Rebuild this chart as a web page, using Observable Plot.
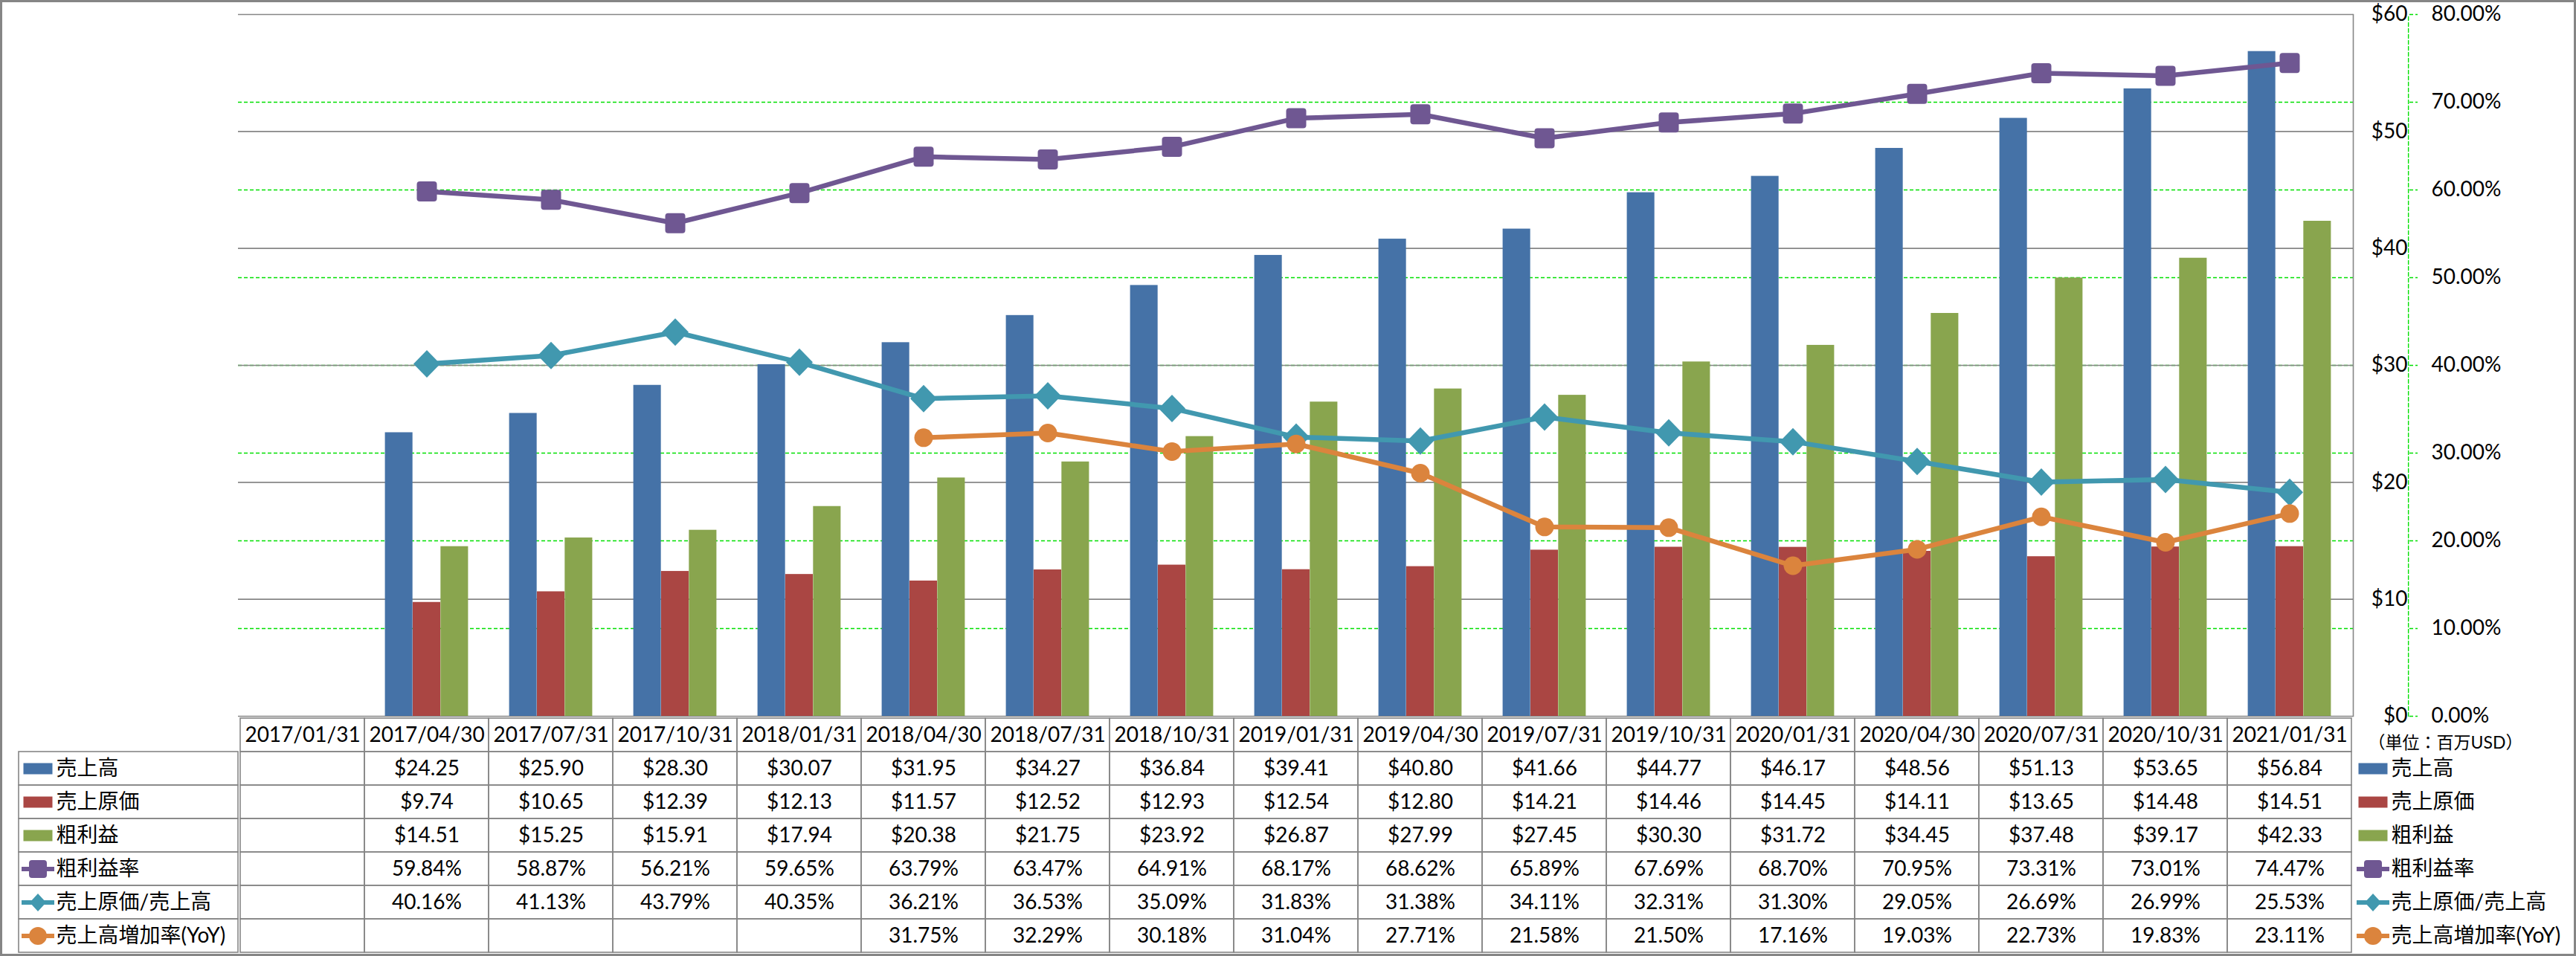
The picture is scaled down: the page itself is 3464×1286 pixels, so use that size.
<!DOCTYPE html>
<html><head><meta charset="utf-8">
<script src="https://cdn.jsdelivr.net/npm/d3@7"></script>
<script src="https://cdn.jsdelivr.net/npm/@observablehq/plot@0.6"></script>
<style>
html,body{margin:0;padding:0;background:#fff;}
#wrap{position:relative;width:3464px;height:1286px;box-sizing:border-box;border:3px solid #868686;background:#fff;overflow:hidden;font-family:Lato,"Noto Sans CJK JP",sans-serif;}
#wrap svg{position:absolute;left:0;background:transparent;max-width:none;}
</style></head><body><div id="wrap"></div>
<script>
// ---------------- data ----------------
const dates = ["2017/01/31","2017/04/30","2017/07/31","2017/10/31","2018/01/31","2018/04/30","2018/07/31","2018/10/31","2019/01/31","2019/04/30","2019/07/31","2019/10/31","2020/01/31","2020/04/30","2020/07/31","2020/10/31","2021/01/31"];
const sales = [null,24.25,25.90,28.30,30.07,31.95,34.27,36.84,39.41,40.80,41.66,44.77,46.17,48.56,51.13,53.65,56.84];
const cost = [null,9.74,10.65,12.39,12.13,11.57,12.52,12.93,12.54,12.80,14.21,14.46,14.45,14.11,13.65,14.48,14.51];
const gross = [null,14.51,15.25,15.91,17.94,20.38,21.75,23.92,26.87,27.99,27.45,30.30,31.72,34.45,37.48,39.17,42.33];
const grossMargin = [null,59.84,58.87,56.21,59.65,63.79,63.47,64.91,68.17,68.62,65.89,67.69,68.70,70.95,73.31,73.01,74.47];
const costRatio = [null,40.16,41.13,43.79,40.35,36.21,36.53,35.09,31.83,31.38,34.11,32.31,31.30,29.05,26.69,26.99,25.53];
const yoy = [null,null,null,null,null,31.75,32.29,30.18,31.04,27.71,21.58,21.50,17.16,19.03,22.73,19.83,23.11];
const seriesNames = ["売上高","売上原価","粗利益","粗利益率","売上原価/売上高","売上高増加率(YoY)"];
const dollarTicks = [0,10,20,30,40,50,60];
const pctTicks = [0,10,20,30,40,50,60,70,80];
const unitLabel = "（単位：百万USD）";

// ---------------- layout / style ----------------
const W = 3458;                 // inner width of the bordered box
const ML = 317, MR = 297;       // plot frame margins
const FW = W - ML - MR;         // frame width
const CH = 1000, MT = 16, MB = 40;   // chart svg
const TH = 320;                 // table svg height
const pctToDollar = dollarTicks[dollarTicks.length-1] / pctTicks[pctTicks.length-1];
const gray = "#868686", green = "#00e000";
const FONT = 'Lato, "Noto Sans CJK JP", sans-serif';
const money = v => "$" + v.toFixed(2);
const pct = v => v.toFixed(2) + "%";

function roundSq(s, rad) {
  const h = s/2;
  return ctx => { ctx.moveTo(-h+rad,-h); ctx.lineTo(h-rad,-h); ctx.arcTo(h,-h,h,-h+rad,rad);
    ctx.lineTo(h,h-rad); ctx.arcTo(h,h,h-rad,h,rad); ctx.lineTo(-h+rad,h); ctx.arcTo(-h,h,-h,h-rad,rad);
    ctx.lineTo(-h,-h+rad); ctx.arcTo(-h,-h,-h+rad,-h,rad); ctx.closePath(); };
}
const diamondPath = (w, h) => ctx => { ctx.moveTo(0,-h); ctx.lineTo(w,0); ctx.lineTo(0,h); ctx.lineTo(-w,0); ctx.closePath(); };
const circlePath = r => ctx => { ctx.moveTo(r,0); ctx.arc(0,0,r,0,2*Math.PI); };
const sym = f => ({draw(ctx){ f(ctx); }});
const withLine = (f, len, th) => sym(ctx => { ctx.rect(-len/2,-th/2,len,th); f(ctx); });

const series = [
  {name: seriesNames[0], values: sales, kind: "bar", color: "#4572A7", fmt: money},
  {name: seriesNames[1], values: cost, kind: "bar", color: "#AA4643", fmt: money},
  {name: seriesNames[2], values: gross, kind: "bar", color: "#89A54E", fmt: money},
  {name: seriesNames[3], values: grossMargin, kind: "line", color: "#6F5792", fmt: pct,
    marker: sym(roundSq(27,4)), legend: withLine(roundSq(24,4),44,6)},
  {name: seriesNames[4], values: costRatio, kind: "line", color: "#4198AF", fmt: pct,
    marker: sym(diamondPath(18,18.5)), legend: withLine(diamondPath(11,12),44,6)},
  {name: seriesNames[5], values: yoy, kind: "line", color: "#DB843D", fmt: pct,
    marker: sym(circlePath(12.5)), legend: withLine(circlePath(12),44,6)}
];
series.filter(s => s.kind === "bar").forEach(s => s.legend = sym(ctx => ctx.rect(-19.5,-7.5,39,15)));

// ---------------- chart ----------------
const band = FW / dates.length;
const group = band * 0.67, barW = group / 3, outer = (band - group) / 2;
const lastDate = dates[dates.length-1];
const marks = [];
marks.push(Plot.ruleY(pctTicks.filter(t => t > 0 && t < pctTicks[pctTicks.length-1]), {y: t => t*pctToDollar, stroke: green, strokeWidth: 1.4, strokeDasharray: "5,3"}));
marks.push(Plot.ruleY(dollarTicks, {stroke: gray, strokeWidth: 1.6}));
marks.push(Plot.frame({anchor: "right", stroke: gray, strokeWidth: 1.6}));
series.filter(s => s.kind === "bar").forEach((s, k) => {
  const idx = dates.map((d, i) => i).filter(i => s.values[i] != null);
  const left = outer + k*barW;
  marks.push(Plot.barY(idx, {x: i => dates[i], y: i => s.values[i], fill: s.color,
    insetLeft: left, insetRight: band - left - barW}));
});
series.filter(s => s.kind === "line").forEach(s => {
  const idx = dates.map((d, i) => i).filter(i => s.values[i] != null);
  marks.push(Plot.line(idx, {x: i => dates[i], y: i => s.values[i]*pctToDollar, stroke: s.color, strokeWidth: 6.5, strokeLinejoin: "round"}));
});
series.filter(s => s.kind === "line").forEach(s => {
  const idx = dates.map((d, i) => i).filter(i => s.values[i] != null);
  marks.push(Plot.dot(idx, {x: i => dates[i], y: i => s.values[i]*pctToDollar, symbol: s.marker, fill: s.color, stroke: "none"}));
});
// right axes
marks.push(Plot.axisY(dollarTicks, {anchor: "right", tickSize: 0, tickPadding: 73, textAnchor: "end", tickFormat: d => "$" + d, fontSize: 28, fill: "#000"}));
// percent axis line (dashed green) placed to the right of the frame
marks.push(Plot.line([pctTicks[0], pctTicks[pctTicks.length-1]], {x: () => lastDate, y: t => t*pctToDollar, dx: band/2 + 76, stroke: green, strokeWidth: 1.4, strokeDasharray: "5,3"}));
marks.push(Plot.ruleY(pctTicks, {y: t => t*pctToDollar, stroke: green, strokeWidth: 1.4, strokeDasharray: "5,3", insetLeft: FW + 76, insetRight: -87}));
marks.push(Plot.axisY(pctTicks.map(t => t*pctToDollar), {anchor: "right", tickSize: 0, tickPadding: 105, textAnchor: "start", tickFormat: d => (d/pctToDollar).toFixed(2) + "%", fontSize: 28, fill: "#000"}));

const chart = Plot.plot({
  width: W, height: CH, marginTop: MT, marginBottom: MB, marginLeft: ML, marginRight: MR,
  style: {fontFamily: FONT, fontSize: "28px", background: "transparent", color: "#000", overflow: "visible"},
  x: {type: "band", domain: dates, padding: 0, axis: null},
  y: {domain: [dollarTicks[0], dollarTicks[dollarTicks.length-1]], axis: null},
  marks
});

// ---------------- data table ----------------
const HEAD = "__date";
const cells = [];
for (const d of dates) cells.push({date: d, row: HEAD, text: d});
series.forEach(s => dates.forEach((d, i) => cells.push({date: d, row: s.name, text: s.values[i] == null ? "" : s.fmt(s.values[i])})));

const tmarks = [
  Plot.cell(cells, {x: "date", y: "row", fill: "none", stroke: gray, strokeWidth: 1.6}),
  Plot.cell(seriesNames, {y: d => d, fill: "none", stroke: gray, strokeWidth: 1.6, insetLeft: -(ML - 22), insetRight: FW}),
  Plot.text(cells, {x: "date", y: "row", text: "text", fontSize: 28, fill: "#000"}),
  Plot.text(seriesNames, {y: d => d, text: d => d, frameAnchor: "left", dx: 72 - ML, textAnchor: "start", fontSize: 28, fill: "#000"}),
  Plot.text(seriesNames, {y: d => d, text: d => d, frameAnchor: "right", dx: 51, textAnchor: "start", fontSize: 28, fill: "#000"}),
  Plot.text([unitLabel], {y: () => HEAD, text: d => d, frameAnchor: "right", dx: 20, dy: 11, textAnchor: "start", fontSize: 23, fill: "#000"})
];
series.forEach(s => {
  tmarks.push(Plot.dot([s.name], {y: d => d, frameAnchor: "left", dx: 47.5 - ML, symbol: s.legend, fill: s.color, stroke: "none"}));
  tmarks.push(Plot.dot([s.name], {y: d => d, frameAnchor: "right", dx: 26.5, symbol: s.legend, fill: s.color, stroke: "none"}));
});

const table = Plot.plot({
  width: W, height: TH, marginTop: 0, marginBottom: 0, marginLeft: ML, marginRight: MR,
  style: {fontFamily: FONT, fontSize: "28px", background: "transparent", color: "#000", overflow: "visible"},
  x: {type: "band", domain: dates, padding: 0, axis: null},
  y: {type: "band", domain: [HEAD, ...seriesNames], padding: 0, axis: null},
  marks: tmarks
});

const wrap = document.getElementById("wrap");
table.style.top = (CH - MB) + "px";
chart.style.top = "0px";
wrap.appendChild(table);
wrap.appendChild(chart);
</script></body></html>
